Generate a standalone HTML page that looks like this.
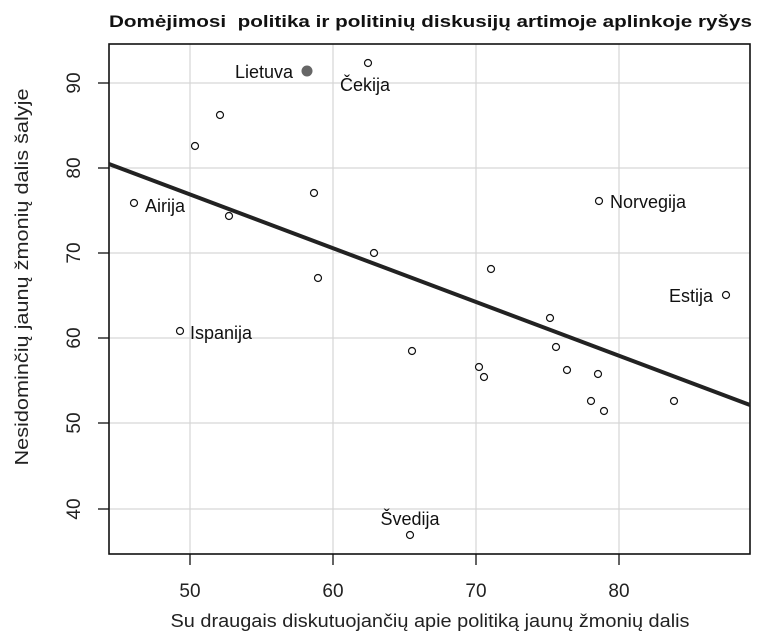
<!DOCTYPE html>
<html><head><style>body{margin:0;background:#fff}svg{display:block;font-family:"Liberation Sans",Arial,sans-serif}</style></head>
<body>
<svg width="768" height="641" viewBox="0 0 768 641">
<rect width="768" height="641" fill="#fff"/>
<text x="109" y="27" font-size="17" font-weight="bold" fill="#111" textLength="643" lengthAdjust="spacingAndGlyphs">Domėjimosi&#160; politika ir politinių diskusijų artimoje aplinkoje ryšys</text>
<g stroke="#d6d6d6" stroke-width="1.2">
<line x1="190" y1="44" x2="190" y2="554"/><line x1="333" y1="44" x2="333" y2="554"/>
<line x1="476" y1="44" x2="476" y2="554"/><line x1="619" y1="44" x2="619" y2="554"/>
<line x1="109" y1="83" x2="750" y2="83"/><line x1="109" y1="168" x2="750" y2="168"/>
<line x1="109" y1="253" x2="750" y2="253"/><line x1="109" y1="338" x2="750" y2="338"/>
<line x1="109" y1="423" x2="750" y2="423"/><line x1="109" y1="509" x2="750" y2="509"/>
</g>
<rect x="109" y="44" width="641" height="510" fill="none" stroke="#111" stroke-width="1.6"/>
<g stroke="#111" stroke-width="1.3">
<line x1="190" y1="554" x2="190" y2="565"/><line x1="333" y1="554" x2="333" y2="565"/>
<line x1="476" y1="554" x2="476" y2="565"/><line x1="619" y1="554" x2="619" y2="565"/>
<line x1="98" y1="83" x2="109" y2="83"/><line x1="98" y1="168" x2="109" y2="168"/>
<line x1="98" y1="253" x2="109" y2="253"/><line x1="98" y1="338" x2="109" y2="338"/>
<line x1="98" y1="423" x2="109" y2="423"/><line x1="98" y1="509" x2="109" y2="509"/>
</g>
<g font-size="19" fill="#222" text-anchor="middle">
<text x="190" y="597">50</text><text x="333" y="597">60</text><text x="476" y="597">70</text><text x="619" y="597">80</text>
<g transform="rotate(-90)"><text x="-83" y="80">90</text><text x="-168" y="80">80</text><text x="-253" y="80">70</text><text x="-338" y="80">60</text><text x="-423" y="80">50</text><text x="-509" y="80">40</text></g>
<text x="430" y="627" font-size="18" textLength="519" lengthAdjust="spacingAndGlyphs">Su draugais diskutuojančių apie politiką jaunų žmonių dalis</text>
<text transform="translate(28,277) rotate(-90)" font-size="18" textLength="377" lengthAdjust="spacingAndGlyphs">Nesidominčių jaunų žmonių dalis šalyje</text>
</g>
<line x1="109" y1="164" x2="750" y2="405" stroke="#222" stroke-width="4"/>
<circle cx="307" cy="71" r="5.5" fill="#666"/>
<g fill="#fff" stroke="#111" stroke-width="1.2">
<circle cx="368" cy="63" r="3.5"/><circle cx="220" cy="115" r="3.5"/><circle cx="195" cy="146" r="3.5"/>
<circle cx="134" cy="203" r="3.5"/><circle cx="229" cy="216" r="3.5"/><circle cx="314" cy="193" r="3.5"/>
<circle cx="318" cy="278" r="3.5"/><circle cx="374" cy="253" r="3.5"/><circle cx="491" cy="269" r="3.5"/>
<circle cx="180" cy="331" r="3.5"/><circle cx="412" cy="351" r="3.5"/><circle cx="479" cy="367" r="3.5"/>
<circle cx="484" cy="377" r="3.5"/><circle cx="550" cy="318" r="3.5"/><circle cx="556" cy="347" r="3.5"/>
<circle cx="567" cy="370" r="3.5"/><circle cx="598" cy="374" r="3.5"/><circle cx="599" cy="201" r="3.5"/>
<circle cx="591" cy="401" r="3.5"/><circle cx="604" cy="411" r="3.5"/><circle cx="674" cy="401" r="3.5"/>
<circle cx="726" cy="295" r="3.5"/><circle cx="410" cy="535" r="3.5"/>
</g>
<g font-size="18" fill="#111">
<text x="293" y="78" text-anchor="end">Lietuva</text>
<text x="340" y="91">Čekija</text>
<text x="145" y="212">Airija</text>
<text x="610" y="208">Norvegija</text>
<text x="713" y="302" text-anchor="end">Estija</text>
<text x="190" y="339">Ispanija</text>
<text x="410" y="525" text-anchor="middle">Švedija</text>
</g>
</svg>
</body></html>
